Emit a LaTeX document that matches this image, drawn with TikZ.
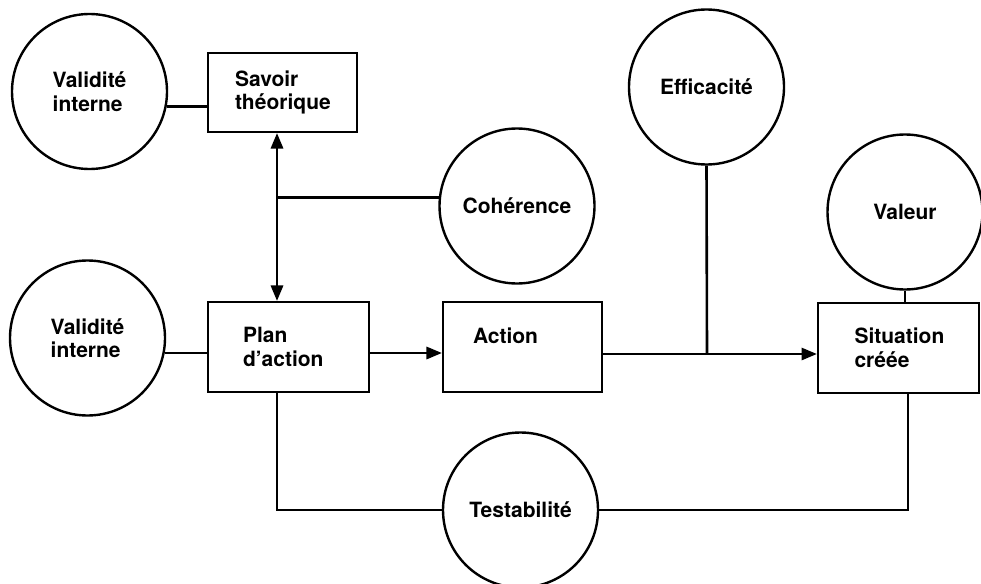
\documentclass[tikz,border=0pt]{standalone}
\usepackage{fontspec}
\setmainfont{TeX Gyre Heros}
\usetikzlibrary{arrows}
\tikzset{
  crit/.style = {circle, draw, line width=2.4pt, minimum size=155pt, inner sep=0pt,
    align=left, font=\fontsize{21}{23.5}\selectfont\bfseries},
  bloc/.style = {rectangle, draw, line width=2.6pt, inner sep=0pt, align=left,
    font=\fontsize{21}{23.5}\selectfont\bfseries},
  lien/.style = {line width=2.6pt},
}

\begin{document}
\begin{tikzpicture}[x=1pt, y=-1pt, >=triangle 45]
  \useasboundingbox (0,0) rectangle (981,583);
  % critères
  \node [crit] (vi1) at (89.5, 91.5) {Validité\\interne};
  \node [crit] (vi2) at (87.5, 338) {Validité\\interne};
  \node [crit] (coh) at (517, 206) {Cohérence};
  \node [crit] (eff) at (706.5, 87) {Efficacité};
  \node [crit] (val) at (905, 212) {Valeur};
  \node [crit] (test) at (520.5, 510) {Testabilité};
  % blocs
  \node [bloc, minimum width=149pt, minimum height=79pt, text width=95pt] (savoir) at (282.5, 92.5) {Savoir\\théorique};
  \node [bloc, minimum width=161pt, minimum height=90pt, text width=91pt] (plan) at (288.5, 347) {Plan\\d’action};
  \node [bloc, minimum width=159pt, minimum height=90pt, text width=99pt, text depth=23pt] (action) at (522.5, 347) {Action};
  \node [bloc, minimum width=161pt, minimum height=90pt, text width=88pt] (sit) at (898.5, 348) {Situation\\créée};
  \coordinate (jc) at (277, 197);
  \coordinate (je) at (707, 354);
  % liens
  \draw [lien] (vi1.-11) -- (vi1.-11 -| savoir.west);
  \draw [lien] (vi2.-11) -- (vi2.-11 -| plan.west);
  \draw [lien] (coh.174) -- (coh.174 -| jc);
  \draw [lien,->] (jc) -- (jc |- savoir.south);
  \draw [lien,->] (jc) -- (jc |- plan.north);
  \draw [lien,->] ([yshift=-6pt]plan.east) -- ([yshift=-6pt]action.west);
  \draw [lien,->] (je -| action.east) -- (je -| sit.west);
  \draw [lien] (eff.south) -- (je);
  \draw [lien] (val.south) -- (val.south |- sit.north);
  \draw [lien] (test.east) -| ([xshift=9.5pt]sit.south);
  \draw [lien] (test.west) -| (jc |- plan.south);
\end{tikzpicture}
\end{document}
